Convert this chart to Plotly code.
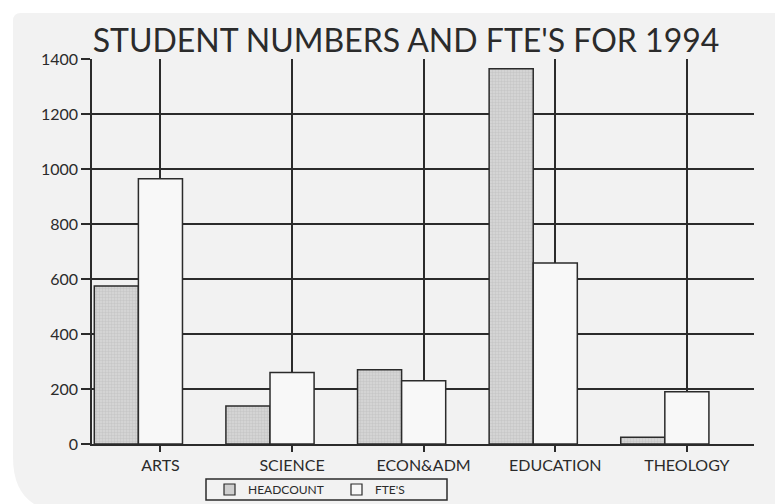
import plotly.graph_objects as go

# Faculties and 1994 student figures
categories = ["ARTS", "SCIENCE", "ECON&ADM", "EDUCATION", "THEOLOGY"]
headcount = [575, 138, 270, 1365, 25]
fte = [965, 260, 230, 658, 190]
y_ticks = [0, 200, 400, 600, 800, 1000, 1200, 1400]
series_names = ["HEADCOUNT", "FTE'S"]

W, H = 775, 504
L, R, T, B = 92, 21, 59, 60
INK = "#2b2b2b"
CARD = "#f2f2f2"
HEAD_FILL = "#cfcfcf"
FTE_FILL = "#f8f8f8"
FONT = "Lato"

BAR_W = 0.335


def px_to_paper(px, py):
    pw = W - L - R
    ph = H - T - B
    return (px - L) / pw, (H - B - py) / ph


fig = go.Figure()

fig.add_trace(go.Bar(
    name=series_names[0],
    x=categories,
    y=headcount,
    width=BAR_W,
    offset=-1.5 * BAR_W,
    marker=dict(
        color=HEAD_FILL,
        line=dict(color=INK, width=1.5),
        pattern=dict(shape="+", size=3, solidity=0.25, fgcolor="#a8a8a8", bgcolor="#d4d4d4"),
    ),
    showlegend=False,
))

fig.add_trace(go.Bar(
    name=series_names[1],
    x=categories,
    y=fte,
    width=BAR_W,
    offset=-0.5 * BAR_W,
    marker=dict(color=FTE_FILL, line=dict(color=INK, width=1.5)),
    showlegend=False,
))

shapes = []

# Light rounded card behind the chart
x0, y0 = px_to_paper(13, 13)
x1, y1 = px_to_paper(800, 512)
rx_big, ry_big = px_to_paper(13 + 55, 512 - 55)
rx_small, ry_small = px_to_paper(13 + 8, 13 + 8)
card_path = (
    f"M {rx_small},{y0} L {x1},{y0} L {x1},{y1} L {rx_big},{y1} "
    f"Q {x0},{y1} {x0},{ry_big} L {x0},{ry_small} Q {x0},{y0} {rx_small},{y0} Z"
)
shapes.append(dict(type="path", path=card_path, xref="paper", yref="paper",
                   fillcolor=CARD, line=dict(width=0), layer="below"))

# Boxed key under the x axis
annotations = []
bx0, by0 = px_to_paper(206, 479)
bx1, by1 = px_to_paper(447, 500)
shapes.append(dict(type="rect", xref="paper", yref="paper", x0=bx0, y0=by0, x1=bx1, y1=by1,
                   line=dict(color=INK, width=1.5), fillcolor=CARD))
key_items = [(series_names[0], HEAD_FILL, 224), (series_names[1], FTE_FILL, 351)]
for name, fill, sx in key_items:
    kx0, ky0 = px_to_paper(sx, 484)
    kx1, ky1 = px_to_paper(sx + 11, 495)
    shapes.append(dict(type="rect", xref="paper", yref="paper", x0=kx0, y0=ky0, x1=kx1, y1=ky1,
                       line=dict(color=INK, width=1.2), fillcolor=fill))
    tx, ty = px_to_paper(sx + 22, 489.5)
    annotations.append(dict(text=name, xref="paper", yref="paper", x=tx, y=ty,
                            xanchor="left", yanchor="middle", showarrow=False,
                            font=dict(family=FONT, size=12, color=INK)))

fig.update_layout(
    width=W,
    height=H,
    margin=dict(l=L, r=R, t=T, b=B, autoexpand=False),
    paper_bgcolor="#ffffff",
    plot_bgcolor="rgba(0,0,0,0)",
    barmode="overlay",
    font=dict(family=FONT, color=INK),
    shapes=shapes,
    annotations=annotations,
    title=dict(
        text="STUDENT NUMBERS AND FTE'S FOR 1994",
        font=dict(family=FONT, size=32, color=INK),
        x=406 / W, xanchor="center",
        y=1 - 41 / H, yanchor="middle",
    ),
    xaxis=dict(
        type="category",
        range=[-0.52, 4.51],
        showgrid=True, gridcolor=INK, gridwidth=1.5,
        showline=True, linecolor=INK, linewidth=1.5,
        ticks="outside", ticklen=6, tickcolor=INK, tickwidth=1.5,
        tickfont=dict(family=FONT, size=16, color=INK),
        zeroline=False,
    ),
    yaxis=dict(
        range=[0, 1400],
        tickvals=y_ticks,
        showgrid=True, gridcolor=INK, gridwidth=1.5,
        showline=True, linecolor=INK, linewidth=1.5,
        ticks="outside", ticklen=9, tickcolor=INK, tickwidth=1.5,
        tickfont=dict(family=FONT, size=16, color=INK),
        zeroline=False,
    ),
)

fig.write_html("out.html")
